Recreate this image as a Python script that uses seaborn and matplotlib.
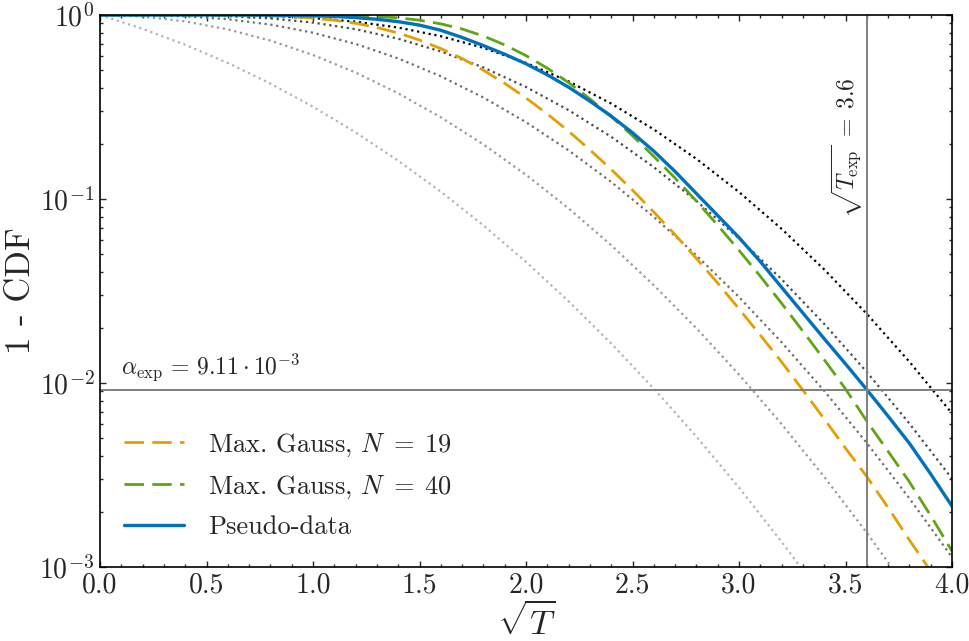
import numpy as np
import pandas as pd
import matplotlib
matplotlib.use("Agg")
import matplotlib.pyplot as plt
import seaborn as sns

# --- values (x = sqrt(T), y = 1 - CDF) ---
sqrt_t_fine = [0.0, 0.1, 0.2, 0.3, 0.4, 0.5, 0.6, 0.7, 0.8, 0.9, 1.0,
               1.1, 1.2, 1.3, 1.4, 1.5, 1.6, 1.7, 1.8, 1.9, 2.0,
               2.1, 2.2, 2.3, 2.4, 2.5, 2.6, 2.7, 2.8, 2.9, 3.0,
               3.1, 3.2, 3.3, 3.4, 3.5, 3.6, 3.7, 3.8, 3.9, 4.0]

max_gauss_19 = [1.0, 1.0, 1.0, 1.0, 0.9997, 0.9991, 0.9977, 0.9948, 0.989, 0.979, 0.962,
                0.937, 0.902, 0.855, 0.798, 0.731, 0.657, 0.580, 0.501, 0.425, 0.354,
                0.290, 0.2335, 0.185, 0.1448, 0.1117, 0.0849, 0.0639, 0.0475, 0.0349, 0.0253,
                0.0182, 0.0130, 0.00914, 0.00638, 0.00442, 0.00310, 0.00210, 0.00140, 0.00095, 0.00062]
max_gauss_40 = [1.0, 1.0, 1.0, 1.0, 1.0, 1.0, 1.0, 1.0, 0.9999, 0.9997, 0.999,
                0.997, 0.9925, 0.983, 0.9656, 0.937, 0.895, 0.839, 0.7686, 0.688, 0.6016,
                0.514, 0.4288, 0.350, 0.2806, 0.2206, 0.1704, 0.1298, 0.0974, 0.0720, 0.0526,
                0.0380, 0.0271, 0.0191, 0.0134, 0.00928, 0.0062, 0.00425, 0.0029, 0.0019, 0.00122]
pseudo_data = [1.0, 1.0, 1.0, 1.0, 1.0, 1.0, 1.0, 0.9995, 0.998, 0.995, 0.99,
               0.982, 0.968, 0.948, 0.92, 0.881, 0.826, 0.755, 0.682, 0.612, 0.543,
               0.473, 0.405, 0.340, 0.282, 0.229, 0.182, 0.141, 0.107, 0.0813, 0.0617,
               0.0457, 0.0331, 0.0240, 0.0174, 0.0127, 0.0092, 0.0066, 0.0047, 0.0032, 0.00214]

# reference dotted curves (light grey -> black)
sqrt_t_coarse = [0.0, 0.2, 0.4, 0.6, 0.8, 1.0, 1.2, 1.4, 1.6, 1.8, 2.0,
                 2.2, 2.4, 2.6, 2.8, 3.0, 3.2, 3.4, 3.6, 3.8, 4.0]
ref_1 = [1.0, 0.8415, 0.6892, 0.5485, 0.4237, 0.3173, 0.2301, 0.1615, 0.1096, 0.0719, 0.0455,
         0.0278, 0.0164, 0.00932, 0.00511, 0.00270, 0.00137, 0.000674, 0.000318, 0.000145, 0.0000633]
ref_2 = [1.0, 0.9802, 0.9231, 0.8353, 0.7261, 0.6065, 0.4868, 0.3753, 0.2780, 0.1979, 0.1353,
         0.0889, 0.0561, 0.0340, 0.01984, 0.01111, 0.00598, 0.00309, 0.001534, 0.000732, 0.000335]
ref_3 = [1.0, 0.9979, 0.9838, 0.9484, 0.8872, 0.8012, 0.6962, 0.5807, 0.4645, 0.3561, 0.2614,
         0.1838, 0.1238, 0.0799, 0.0494, 0.0293, 0.01664, 0.00906, 0.00472, 0.00236, 0.00113]
ref_4 = [1.0, 0.9998, 0.9970, 0.9857, 0.9585, 0.9098, 0.8373, 0.7431, 0.6338, 0.5185, 0.4060,
         0.3040, 0.2177, 0.1489, 0.0976, 0.0611, 0.0366, 0.02095, 0.01147, 0.00602, 0.00302]
ref_5 = [1.0, 0.9999, 0.9995, 0.9964, 0.9861, 0.9625, 0.9199, 0.8546, 0.7673, 0.6631, 0.5493,
         0.4356, 0.3301, 0.2388, 0.1652, 0.1091, 0.0688, 0.0414, 0.02375, 0.01304, 0.00683]

alpha_exp = 9.11e-3
sqrt_t_exp = 3.6

sns.set_style("ticks")
plt.rcParams["font.family"] = "serif"
plt.rcParams["font.serif"] = ["cmr10"]
plt.rcParams["mathtext.fontset"] = "cm"
plt.rcParams["axes.formatter.use_mathtext"] = True
plt.rcParams["axes.unicode_minus"] = False

fig = plt.figure(figsize=(9.69, 6.41), dpi=100)
ax = fig.add_axes([0.1032, 0.1154, 0.8793, 0.8612])

ref_curves = [ref_1, ref_2, ref_3, ref_4, ref_5]
ref_colors = ["#b4b4b4", "#9a9a9a", "#6e6e6e", "#4a4a4a", "#000000"]
for vals, col in zip(ref_curves, ref_colors):
    sns.lineplot(x=sqrt_t_coarse, y=vals, ax=ax, color=col, linestyle=":", linewidth=1.6)

sns.lineplot(x=sqrt_t_fine, y=max_gauss_19, ax=ax, color="#E69F00", linestyle=(0, (7, 3)),
             linewidth=2.0, label=r"Max. Gauss, $N\;=\;19$")
sns.lineplot(x=sqrt_t_fine, y=max_gauss_40, ax=ax, color="#5fa614", linestyle=(0, (7, 3)),
             linewidth=2.0, label=r"Max. Gauss, $N\;=\;40$")
sns.lineplot(x=sqrt_t_fine, y=pseudo_data, ax=ax, color="#0072BD", linestyle="-",
             linewidth=2.4, label="Pseudo-data")

ax.axhline(alpha_exp, color="#808080", linewidth=1.4)
ax.axvline(sqrt_t_exp, color="#808080", linewidth=1.4)

ax.text(0.1, 1.0e-2, r"$\alpha_{\rm exp}\,=\,9.11 \cdot 10^{-3}$", fontsize=17,
        ha="left", va="bottom")
ax.text(3.51, 0.19, r"$\sqrt{T_{\rm exp}}\;=\;3.6$", fontsize=17, rotation=90,
        ha="center", va="center")

ax.set_yscale("log")
ax.set_xlim(0, 4)
ax.set_ylim(1e-3, 1)
ax.set_xticks(np.arange(0, 4.01, 0.5))
ax.set_xticks(np.arange(0, 4.01, 0.1), minor=True)
ax.set_xticklabels([f"{v:.1f}" for v in np.arange(0, 4.01, 0.5)])

ax.tick_params(which="both", direction="in", top=True, right=True, labelsize=20, width=1.0)
ax.tick_params(which="major", length=4, pad=4)
ax.tick_params(which="minor", length=2.2)
for s in ax.spines.values():
    s.set_linewidth(1.2)
    s.set_color("black")

ax.set_xlabel(r"$\sqrt{T}$", fontsize=25, labelpad=3)
ax.set_ylabel("1 - CDF", fontsize=25, labelpad=2)

ax.legend(loc="lower left", bbox_to_anchor=(0.0, 0.008), frameon=False, fontsize=19,
          handlelength=2.3, handletextpad=0.9, labelspacing=0.55)

fig.savefig("out.png", dpi=100)
